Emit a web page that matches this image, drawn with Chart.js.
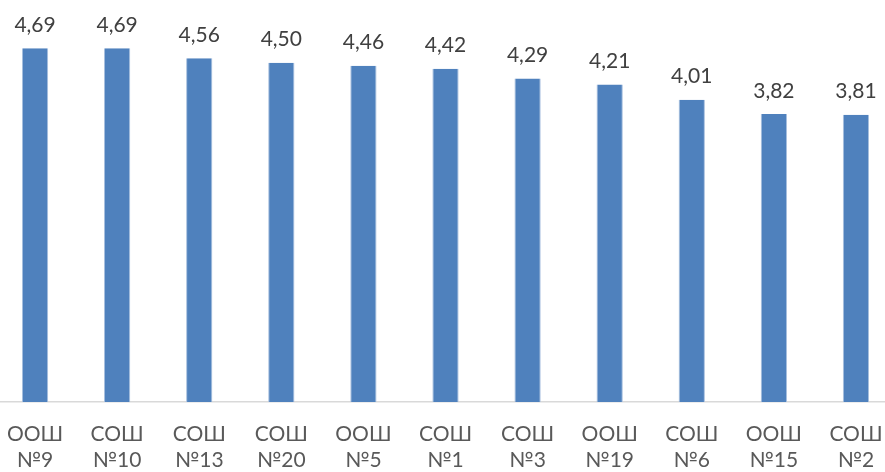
<!DOCTYPE html>
<html>
<head>
<meta charset="utf-8">
<script src="https://cdn.jsdelivr.net/npm/chart.js@4/dist/chart.umd.min.js"></script>
<style>
    html, body { margin: 0; padding: 0; background: #fff; overflow: hidden; }
    #wrap { position: absolute; left: -6px; top: 0; width: 903px; height: 472px; }
</style>
</head>
<body>
<div id="wrap"><canvas id="schoolChart"></canvas></div>
<script>
const schoolTypes = ['ООШ', 'СОШ', 'СОШ', 'СОШ', 'ООШ', 'СОШ', 'СОШ', 'ООШ', 'СОШ', 'ООШ', 'СОШ'];
const schoolNumbers = ['№9', '№10', '№13', '№20', '№5', '№1', '№3', '№19', '№6', '№15', '№2'];
const scores = [4.69, 4.69, 4.56, 4.50, 4.46, 4.42, 4.29, 4.21, 4.01, 3.82, 3.81];

const labels = schoolTypes.map((t, i) => [t, schoolNumbers[i]]);

const valueLabels = {
    id: 'valueLabels',
    afterDatasetsDraw(chart) {
        const ctx = chart.ctx;
        const meta = chart.getDatasetMeta(0);
        ctx.save();
        ctx.font = '21px Lato';
        ctx.fillStyle = '#404040';
        ctx.textAlign = 'center';
        ctx.textBaseline = 'middle';
        meta.data.forEach((bar, i) => {
            ctx.fillText(scores[i].toFixed(2).replace('.', ','), bar.x, bar.y - 23);
        });
        ctx.restore();
    }
};

const schoolCtx = document.getElementById('schoolChart');
new Chart(schoolCtx, {
    type: 'bar',
    data: {
        labels: labels,
        datasets: [{
            data: scores,
            backgroundColor: '#4f81bd',
            borderColor: '#a7bfde',
            borderWidth: { left: 1, right: 1, top: 0, bottom: 0 },
            categoryPercentage: 1,
            barPercentage: 0.32
        }]
    },
    options: {
        responsive: true,
        maintainAspectRatio: false,
        animation: false,
        layout: { padding: { top: 25, left: 0, right: 0, bottom: 0 } },
        plugins: {
            legend: { display: false },
            tooltip: { enabled: false }
        },
        scales: {
            y: {
                display: false,
                min: 0,
                max: 5
            },
            x: {
                grid: { display: false },
                border: { display: true, color: '#d9d9d9', width: 1.5 },
                ticks: {
                    color: '#595959',
                    font: { family: 'Lato', size: 21, lineHeight: 1.2 },
                    padding: 12,
                    maxRotation: 0,
                    autoSkip: false
                },
                afterFit(scale) {
                    scale.height = 70;
                }
            }
        }
    },
    plugins: [valueLabels]
});
</script>
</body>
</html>
